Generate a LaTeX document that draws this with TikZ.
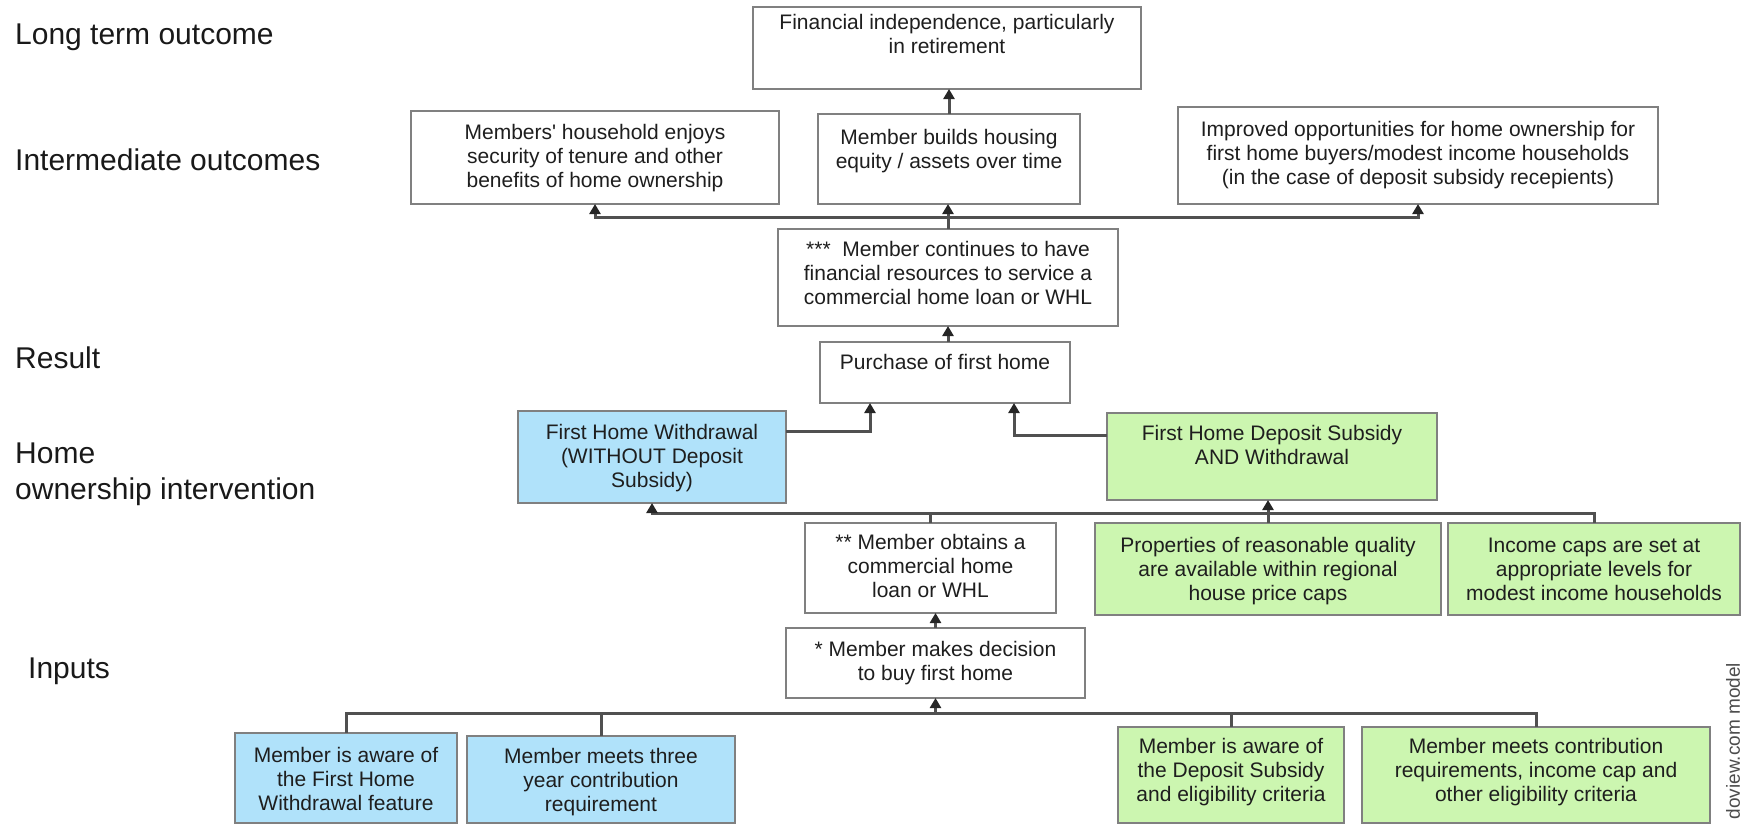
\documentclass[tikz,border=0pt]{standalone}
\usepackage{fontspec}
\setmainfont{Liberation Sans}
\usetikzlibrary{arrows.meta,calc}
\definecolor{bluefill}{RGB}{176,226,250}
\definecolor{greenfill}{RGB}{204,246,176}
\definecolor{edgegray}{RGB}{128,128,128}
\definecolor{linegray}{RGB}{80,80,80}
\definecolor{txt}{RGB}{30,30,30}
\newcommand{\mybox}[8]{%
  \node[bx,#6,minimum width={#4-#2},minimum height={#5-#3}] (#1) at ({(#2+#4)/2},{(#3+#5)/2})
  {\parbox[c][\dimexpr#5pt-#3pt\relax][t]{\dimexpr#4pt-#2pt\relax}{\centering\rule{0pt}{#8pt}#7\par}};}
\begin{document}
\begin{tikzpicture}[x=1pt,y=-1pt,
  bx/.style={draw=edgegray,line width=2.5pt,inner sep=0pt,outer sep=0pt,text=txt,font=\fontsize{21}{24}\selectfont},
  wbox/.style={fill=white},
  bbox/.style={fill=bluefill},
  gbox/.style={fill=greenfill},
  conn/.style={draw=linegray,line width=3pt},
  arr/.style={conn,-{Triangle[length=10pt,width=11pt,color=black!85]}},
  lab/.style={anchor=base west,inner sep=0pt,font=\fontsize{30}{36}\selectfont,text=black!90}]
\useasboundingbox (0,0) rectangle (1743,825);
\clip (0,0) rectangle (1743,825);

% level labels
\node[lab] (l1) at (15,44) {Long term outcome};
\node[lab] (l2) at (15,170) {Intermediate outcomes};
\node[lab] (l3) at (15,368) {Result};
\node[lab] (l4) at (15,463) {Home};
\node[lab] (l5) at (15,499) {ownership intervention};
\node[lab] (l6) at (28,678) {Inputs};

% boxes
\mybox{fin}{753}{7}{1141}{89}{wbox}{Financial independence, particularly\\in retirement}{22}
\mybox{sec}{411}{111}{779}{204}{wbox}{Members\textquotesingle{} household enjoys\\security of tenure and other\\benefits of home ownership}{28.5}
\mybox{equity}{818}{114}{1080}{204}{wbox}{Member builds housing\\equity / assets over time}{30}
\mybox{opp}{1178}{107}{1658}{204}{wbox}{Improved opportunities for home ownership for\\first home buyers/modest income households\\(in the case of deposit subsidy recepients)}{29.5}
\mybox{cont}{778}{229}{1118}{326}{wbox}{***\ \ Member continues to have\\financial resources to service a\\commercial home loan or WHL}{27.5}
\mybox{purch}{820}{342}{1070}{403}{wbox}{Purchase of first home}{27.5}
\mybox{fhw}{518}{411}{786}{503}{bbox}{First Home Withdrawal\\(WITHOUT Deposit\\Subsidy)}{28.5}
\mybox{fhds}{1107}{413}{1437}{500}{gbox}{First Home Deposit Subsidy\\AND Withdrawal}{27.5}
\mybox{loan}{805}{523}{1056}{613}{wbox}{** Member obtains a\\commercial home\\loan or WHL}{26.5}
\mybox{prop}{1095}{523}{1441}{615}{gbox}{Properties of reasonable quality\\are available within regional\\house price caps}{29.5}
\mybox{caps}{1448}{523}{1740}{615}{gbox}{Income caps are set at\\appropriate levels for\\modest income households}{29.5}
\mybox{dec}{786}{628}{1085}{698}{wbox}{* Member makes decision\\to buy first home}{28.5}
\mybox{aw1}{235}{733}{457}{823}{bbox}{Member is aware of\\the First Home\\Withdrawal feature}{29.5}
\mybox{meet3}{467}{736}{735}{823}{bbox}{Member meets three\\year contribution\\requirement}{27}
\mybox{awds}{1118}{727}{1344}{823}{gbox}{Member is aware of\\the Deposit Subsidy\\and eligibility criteria}{26.5}
\mybox{meetc}{1362}{727}{1710}{823}{gbox}{Member meets contribution\\requirements, income cap and\\other eligibility criteria}{26.5}

% connectors
\draw[arr] (equity.north) -- (equity.north |- fin.south);
\coordinate (h1) at ($(cont.north)+(0,-12)$);
\draw[arr] (cont.north) -- (cont.north |- equity.south);
\draw[arr] (h1) -| (sec.south);
\draw[arr] (h1) -| (opp.south);
\draw[arr] (purch.north -| cont.south) -- (cont.south);
\draw[arr] ($(fhw.north east)+(0,20)$) -| ($(purch.south west)+(50,0)$);
\draw[arr] ($(fhds.north west)+(0,22)$) -| ($(purch.south west)+(194,0)$);
\coordinate (h2) at ($(loan.north)+(0,-10)$);
\draw[conn] (loan.north) -- (h2);
\draw[arr] (h2) -| (fhw.south);
\draw[conn] (h2) -| (caps.north);
\draw[arr] (prop.north) -- (prop.north |- fhds.south);
\draw[arr] (dec.north) -- (dec.north |- loan.south);
\coordinate (h3) at ($(dec.south)+(0,15)$);
\draw[arr] (h3) -- (dec.south);
\draw[conn] (aw1.north) |- (h3);
\draw[conn] (meet3.north) |- (h3);
\draw[conn] (awds.north) |- (h3);
\draw[conn] (meetc.north) |- (h3);

% watermark
\node[rotate=90,inner sep=0pt,text=black!70,font=\fontsize{19}{19}\selectfont] (dv) at (1733,741) {doview.com model};
\end{tikzpicture}
\end{document}
